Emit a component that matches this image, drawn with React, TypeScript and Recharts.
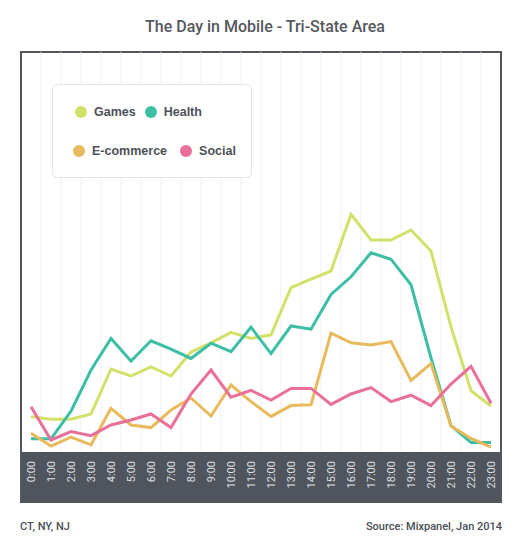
import React from 'react';
import { LineChart, Line, XAxis, YAxis, CartesianGrid } from 'recharts';

const hours = [0, 1, 2, 3, 4, 5, 6, 7, 8, 9, 10, 11, 12, 13, 14, 15, 16, 17, 18, 19, 20, 21, 22, 23];
const games = [8.8, 8.2, 8.2, 9.5, 20.75, 19, 21.3, 19, 25, 27.3, 29.9, 28.4, 29.3, 41.1, 43.2, 45.25, 59.4, 53, 53, 55.5, 50.25, 31.3, 15.3, 11.5];
const health = [3.3, 3.3, 10.2, 20.5, 28.4, 22.75, 27.8, 25.7, 23.4, 27.2, 25.1, 31.2, 24.6, 31.5, 30.7, 39.4, 43.8, 49.8, 48.2, 41.8, 23.5, 6.6, 2.4, 2.4];
const ecommerce = [4.7, 1.5, 3.7, 1.8, 10.9, 6.75, 6.1, 10.5, 13.5, 9, 16.75, 12.6, 8.9, 11.6, 11.8, 29.7, 27.3, 26.75, 27.6, 17.9, 22.1, 6.5, 3.4, 1.2];
const social = [11.3, 3, 5.1, 4.1, 6.75, 8, 9.5, 6.1, 14.5, 20.5, 13.7, 15.4, 13, 15.9, 15.9, 11.9, 14.5, 16.1, 12.6, 14.2, 11.6, 17, 21.4, 12.2];

const seriesNames = ['Games', 'Health', 'E-commerce', 'Social'];
const seriesKeys = ['games', 'health', 'ecommerce', 'social'];
const seriesColors = ['#d3e16b', '#3dbfa6', '#e8ba5c', '#e8709b'];

const rows = hours.map((h, i) => ({
  hour: h,
  games: games[i],
  health: health[i],
  ecommerce: ecommerce[i],
  social: social[i],
}));

const hourLabel = (h: number) => `${h}:00`;

const HourTick = (props: any) => {
  const { x, payload } = props;
  const y = 461;
  return (
    <text
      x={x}
      y={y}
      dy="0.36em"
      transform={`rotate(-90, ${x}, ${y})`}
      textAnchor="end"
      fill="#dde0e5"
      fontSize={11}
      fontFamily="Roboto, 'DejaVu Sans', sans-serif"
    >
      {hourLabel(payload.value)}
    </text>
  );
};

const LegendItem = ({ name, color, gap }: { name: string; color: string; gap: number }) => (
  <span style={{ display: 'inline-flex', alignItems: 'center', marginRight: gap }}>
    <span
      style={{
        display: 'inline-block',
        width: 12,
        height: 12,
        borderRadius: '50%',
        background: color,
        marginRight: 7,
      }}
    />
    <span>{name}</span>
  </span>
);

export default function App() {
  const font = "Roboto, 'DejaVu Sans', sans-serif";
  return (
    <div style={{ position: 'absolute', left: 0, top: 0, width: 524, height: 554, background: '#fff' }}>
      <div
        style={{
          position: 'absolute',
          left: 0,
          top: 16,
          width: 530,
          textAlign: 'center',
          fontFamily: font,
          fontWeight: 500,
          fontSize: 16,
          color: '#55585e',
          lineHeight: '22px',
        }}
      >
        The Day in Mobile - Tri-State Area
      </div>

      {/* frame and dark axis band */}
      <div style={{ position: 'absolute', left: 20, top: 452, width: 482, height: 51, background: '#4f545d' }} />
      <div
        style={{
          position: 'absolute',
          left: 20,
          top: 51,
          width: 482,
          height: 452,
          border: '2px solid #53575e',
          boxSizing: 'border-box',
        }}
      />

      <div style={{ position: 'absolute', left: 0, top: 0 }}>
        <LineChart width={524} height={554} data={rows} margin={{ top: 52, right: 23, left: 21, bottom: 51 }}>
          <CartesianGrid
            horizontal={false}
            stroke="#efefef"
            strokeWidth={1}
            verticalCoordinatesGenerator={({ offset }: any) =>
              hours.slice(1).map((h) => offset.left + (h * offset.width) / hours.length)
            }
          />
          <XAxis
            dataKey="hour"
            type="number"
            domain={[-0.5, 23.5]}
            ticks={hours}
            interval={0}
            height={51}
            axisLine={false}
            tickLine={false}
            tick={<HourTick />}
          />
          <YAxis hide domain={[0, 100]} />
          {seriesKeys.map((k, i) => (
            <Line
              key={k}
              type="linear"
              dataKey={k}
              name={seriesNames[i]}
              stroke={seriesColors[i]}
              strokeWidth={3}
              dot={false}
              activeDot={false}
              isAnimationActive={false}
            />
          ))}
        </LineChart>
      </div>

      {/* legend */}
      <div
        style={{
          position: 'absolute',
          left: 52,
          top: 84,
          width: 200,
          height: 94,
          boxSizing: 'border-box',
          border: '1px solid #e6e6e6',
          borderRadius: 5,
          background: '#fff',
          fontFamily: "'Liberation Sans', Arial, sans-serif",
          fontWeight: 'bold',
          fontSize: 12.5,
          color: '#4d5159',
        }}
      >
        <div style={{ position: 'absolute', left: 22, top: 20, whiteSpace: 'nowrap', display: 'flex' }}>
          <LegendItem name={seriesNames[0]} color={seriesColors[0]} gap={9} />
          <LegendItem name={seriesNames[1]} color={seriesColors[1]} gap={9} />
        </div>
        <div style={{ position: 'absolute', left: 20, top: 59, whiteSpace: 'nowrap', display: 'flex' }}>
          <LegendItem name={seriesNames[2]} color={seriesColors[2]} gap={13} />
          <LegendItem name={seriesNames[3]} color={seriesColors[3]} gap={13} />
        </div>
      </div>

      {/* footer */}
      <div
        style={{
          position: 'absolute',
          left: 20,
          top: 520,
          fontFamily: font,
          fontWeight: 500,
          fontSize: 11,
          color: '#4b4e54',
          lineHeight: '14px',
        }}
      >
        CT, NY, NJ
      </div>
      <div
        style={{
          position: 'absolute',
          right: 22,
          top: 520,
          fontFamily: font,
          fontWeight: 500,
          fontSize: 11,
          color: '#4b4e54',
          lineHeight: '14px',
        }}
      >
        Source: Mixpanel, Jan 2014
      </div>
    </div>
  );
}
